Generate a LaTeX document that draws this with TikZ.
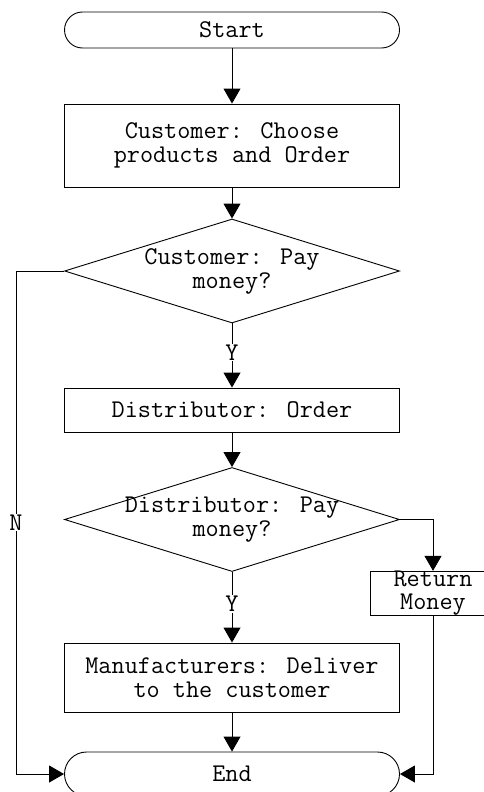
\documentclass[tikz,border=0pt]{standalone}
\usepackage{fontspec}
\usepackage{tikz}
\usetikzlibrary{shapes.geometric, arrows.meta}

\begin{document}
\begin{tikzpicture}[x=1pt, y=-1pt,
        font=\ttfamily\fontsize{25.5}{24}\selectfont,
        terminal/.style={rectangle, draw=black, rounded corners=18pt, minimum width=335pt, line width=0.9pt},
        box/.style={rectangle, draw=black, align=center, minimum width=335pt, line width=0.9pt},
        decision/.style={diamond, draw=black, align=center, minimum width=335pt, minimum height=104pt, inner sep=0pt, inner xsep=-80pt, aspect=3.2, line width=0.9pt},
        label/.style={fill=white, inner sep=1pt},
        arrow/.style={-{Triangle[length=15pt, width=17pt]}, line width=0.9pt}]

        \useasboundingbox (0,0) rectangle (483,792);

        \node (start) [terminal, minimum height=36pt] at (232,30) {Start};
        \node (choose) [box, minimum height=83pt] at (232,145.5) {Customer: Choose\\products and Order};
        \node (custpay) [decision] at (232,271) {Customer: Pay\\money?};
        \node (distorder) [box, minimum height=44pt] at (232,410) {Distributor: Order};
        \node (distpay) [decision] at (232,519.5) {Distributor: Pay\\money?};
        \node (refund) [box, minimum width=126pt, minimum height=43pt, inner sep=0pt, font=\ttfamily\fontsize{25.5}{23}\selectfont] at (433,593.5) {Return\\Money};
        \node (deliver) [box, minimum height=69pt] at (232,677.5) {Manufacturers: Deliver\\to the customer};
        \node (end) [terminal, minimum height=44pt, rounded corners=22pt] at (232,774) {End};

        \draw [arrow] (start) -- (choose);
        \draw [arrow] (choose) -- (custpay);
        \draw [arrow] (custpay) -- node[label, pos=0.45] {Y} (distorder);
        \draw [arrow] (distorder) -- (distpay);
        \draw [arrow] (distpay) -- node[label, pos=0.45] {Y} (deliver);
        \draw [arrow] (deliver) -- (end);
        \draw [arrow] (custpay.west) -- ++(-48,0) |- node[label, pos=0.25] {N} (end.west);
        \draw [arrow] (distpay.east) -| (refund.north);
        \draw [arrow] (refund.south) |- (end.east);
    \end{tikzpicture}
\end{document}
